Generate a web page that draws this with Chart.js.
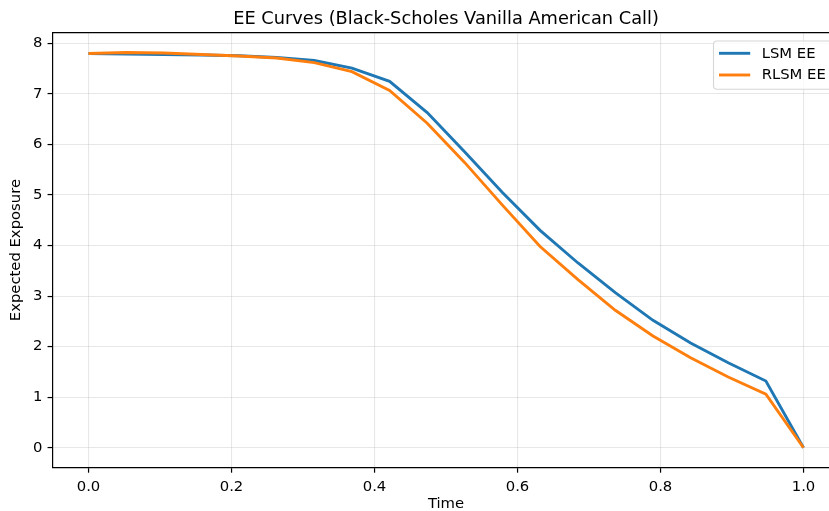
<!DOCTYPE html>
<html>
<head>
<meta charset="utf-8">
<script src="https://cdn.jsdelivr.net/npm/chart.js@4.4.1/dist/chart.umd.min.js"></script>
<style>
  html, body { margin: 0; padding: 0; background: #fff; }
  #caixa { width: 829px; height: 511px; overflow: hidden; position: relative; }
  #grafico { display: block; }
</style>
</head>
<body>
<div id="caixa">
  <canvas id="grafico" width="892" height="511"></canvas>
</div>
<script>
// tempos (20 datas de exercicio entre 0 e 1)
var tempos = [0, 0.0526, 0.1053, 0.1579, 0.2105, 0.2632, 0.3158, 0.3684, 0.4211, 0.4737,
              0.5263, 0.5789, 0.6316, 0.6842, 0.7368, 0.7895, 0.8421, 0.8947, 0.9474, 1.0];

// exposicao esperada do LSM
var lsmEE = [7.80, 7.79, 7.78, 7.77, 7.755, 7.72, 7.66, 7.51, 7.25, 6.63,
             5.85, 5.05, 4.30, 3.66, 3.07, 2.52, 2.07, 1.68, 1.32, 0];

// exposicao esperada do RLSM
var rlsmEE = [7.80, 7.82, 7.81, 7.78, 7.75, 7.71, 7.62, 7.44, 7.07, 6.42,
              5.64, 4.80, 3.98, 3.33, 2.72, 2.21, 1.78, 1.40, 1.06, 0];

// ticks dos eixos
var ticksX = [0, 0.2, 0.4, 0.6, 0.8, 1.0];
var rotulosX = ['0.0', '0.2', '0.4', '0.6', '0.8', '1.0'];
var ticksY = [0, 1, 2, 3, 4, 5, 6, 7, 8];

var fonte = 'DejaVu Sans';
var tamFonte = 14.8;
var corGrade = 'rgba(176, 176, 176, 0.3)';

// junta x e y em pontos
function montaPontos(xs, ys) {
  var pontos = [];
  for (var i = 0; i < xs.length; i++) {
    pontos.push({ x: xs[i], y: ys[i] });
  }
  return pontos;
}

// linha de cima do quadro (esquerda e baixo vem das bordas dos eixos)
var moldura = {
  id: 'moldura',
  afterDatasetsDraw: function(chart) {
    var a = chart.chartArea;
    var ctx = chart.ctx;
    ctx.save();
    ctx.strokeStyle = '#000';
    ctx.lineWidth = 1.2;
    ctx.beginPath();
    ctx.moveTo(a.left, a.top);
    ctx.lineTo(a.right, a.top);
    ctx.stroke();
    ctx.restore();
  }
};

// legenda no estilo do matplotlib, canto superior direito
var legendaCaixa = {
  id: 'legendaCaixa',
  afterDraw: function(chart) {
    var a = chart.chartArea;
    var ctx = chart.ctx;
    var esq = a.right - 125.75;
    var topo = a.top + 8.3;
    var larg = 118.5;
    var alt = 48.3;
    ctx.save();
    ctx.beginPath();
    ctx.roundRect(esq, topo, larg, alt, 3.5);
    ctx.fillStyle = 'rgba(255,255,255,0.8)';
    ctx.fill();
    ctx.strokeStyle = '#d6d6d6';
    ctx.lineWidth = 1.1;
    ctx.stroke();

    var ds = chart.data.datasets;
    ctx.font = tamFonte + 'px "' + fonte + '"';
    ctx.textBaseline = 'middle';
    ctx.textAlign = 'left';
    for (var i = 0; i < ds.length; i++) {
      var y = topo + 12.3 + i * 21.7;
      ctx.beginPath();
      ctx.moveTo(esq + 5.5, y);
      ctx.lineTo(esq + 36.7, y);
      ctx.strokeStyle = ds[i].borderColor;
      ctx.lineWidth = 2.9;
      ctx.stroke();
      ctx.fillStyle = '#000';
      ctx.fillText(ds[i].label, esq + 48.2, y + 0.5);
    }
    ctx.restore();
  }
};

var ctx = document.getElementById('grafico');
var grafico = new Chart(ctx.getContext('2d'), {
  type: 'line',
  data: {
    datasets: [
      {
        label: 'LSM EE',
        data: montaPontos(tempos, lsmEE),
        borderColor: '#1f77b4',
        backgroundColor: '#1f77b4',
        borderWidth: 2.9,
        pointRadius: 0,
        tension: 0,
        fill: false,
        order: 1
      },
      {
        label: 'RLSM EE',
        data: montaPontos(tempos, rlsmEE),
        borderColor: '#ff7f0e',
        backgroundColor: '#ff7f0e',
        borderWidth: 2.9,
        pointRadius: 0,
        tension: 0,
        fill: false,
        order: 0
      }
    ]
  },
  options: {
    responsive: false,
    animation: false,
    layout: { padding: 0 },
    plugins: {
      legend: { display: false },
      tooltip: { enabled: false },
      title: {
        display: true,
        text: 'EE Curves (Black-Scholes Vanilla American Call)',
        color: '#000',
        font: { family: fonte, size: 17.8, weight: 'normal', lineHeight: 1.2 },
        padding: { top: 9.0, bottom: 2.34 }
      }
    },
    scales: {
      x: {
        type: 'linear',
        min: -0.05,
        max: 1.05,
        afterBuildTicks: function(eixo) {
          eixo.ticks = ticksX.map(function(v) { return { value: v }; });
        },
        afterFit: function(eixo) { eixo.height = 43.5; },
        ticks: {
          color: '#000',
          font: { family: fonte, size: tamFonte },
          padding: 5.2,
          maxRotation: 0,
          autoSkip: false,
          callback: function(valor) {
            var i = ticksX.indexOf(valor);
            return i >= 0 ? rotulosX[i] : '';
          }
        },
        grid: {
          color: corGrade,
          lineWidth: 1.1,
          tickColor: '#000',
          tickLength: 5.2,
          tickWidth: 1.2
        },
        border: { color: '#000', width: 1.2 },
        title: {
          display: true,
          text: 'Time',
          color: '#000',
          font: { family: fonte, size: tamFonte, lineHeight: 0.9 },
          padding: { top: 0, bottom: 0 }
        }
      },
      y: {
        type: 'linear',
        position: 'left',
        min: -0.391,
        max: 8.211,
        afterBuildTicks: function(eixo) {
          eixo.ticks = ticksY.map(function(v) { return { value: v }; });
        },
        afterFit: function(eixo) { eixo.width = 52.75; },
        ticks: {
          color: '#000',
          font: { family: fonte, size: tamFonte },
          padding: 5.2,
          callback: function(valor) { return String(valor); }
        },
        grid: {
          color: corGrade,
          lineWidth: 1.1,
          tickColor: '#000',
          tickLength: 5.2,
          tickWidth: 1.2
        },
        border: { color: '#000', width: 1.2 },
        title: {
          display: true,
          text: 'Expected Exposure',
          color: '#000',
          font: { family: fonte, size: tamFonte },
          padding: { top: 7.5, bottom: 0 }
        }
      },
      // eixo vazio a direita so pra reservar a margem (fica fora da tela)
      yDireita: {
        type: 'linear',
        position: 'right',
        display: true,
        afterFit: function(eixo) { eixo.width = 52.75; },
        ticks: { display: false },
        grid: { display: false },
        border: { display: false }
      }
    }
  },
  plugins: [moldura, legendaCaixa]
});
</script>
</body>
</html>
